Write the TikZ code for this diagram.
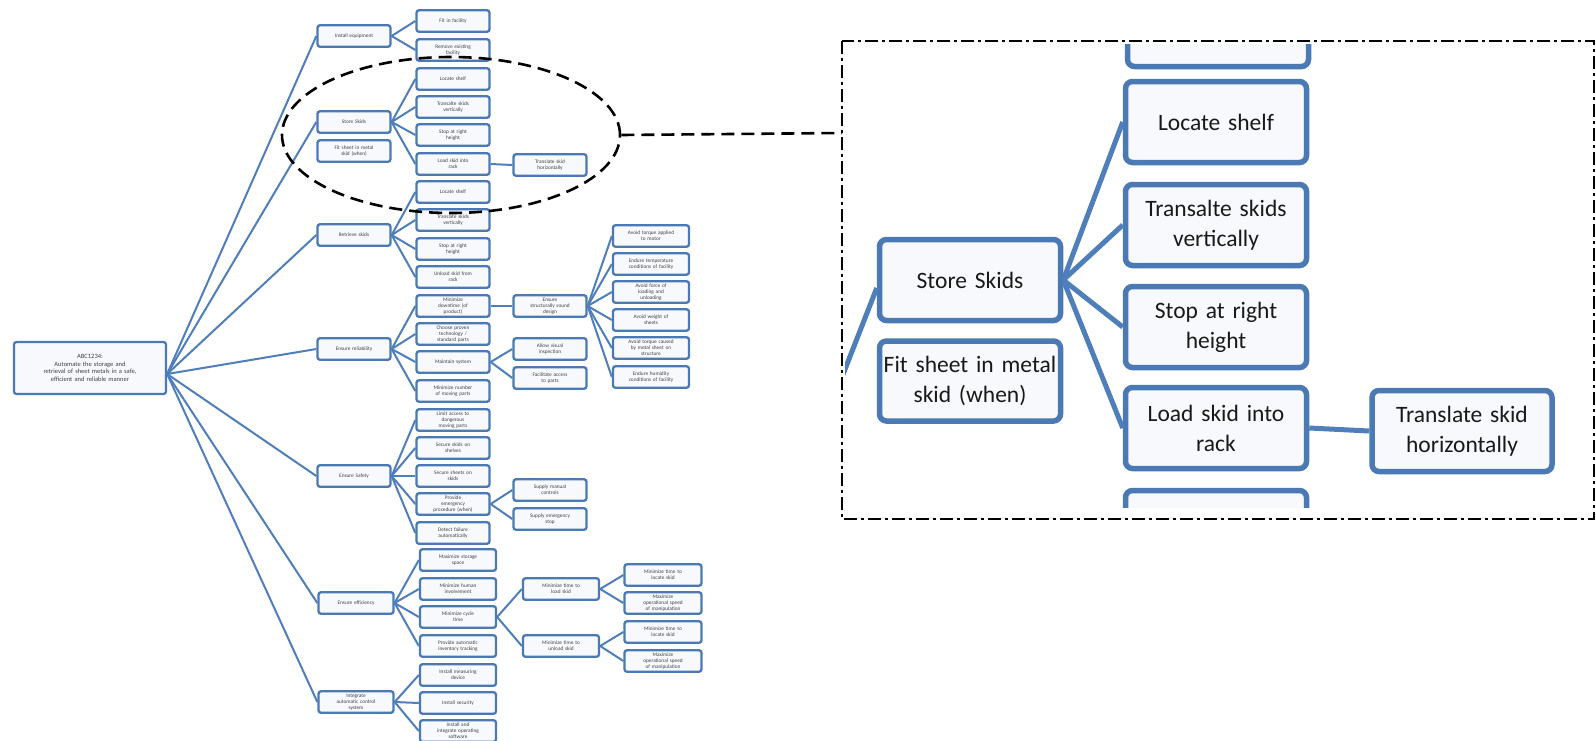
\documentclass[tikz,border=0pt]{standalone}
\usepackage{fontspec}
\setmainfont{Carlito}
\usetikzlibrary{shapes.geometric}
\definecolor{bblue}{HTML}{4A79B4}
\definecolor{lblue}{HTML}{4F7FBA}
\definecolor{bfill}{HTML}{F7F9FD}
\begin{document}
\begin{tikzpicture}[x=1pt,y=-1pt,
  sbox/.style={draw=bblue, fill=bfill, line width=2.3pt, rounded corners=2.5pt,
    minimum width=73pt, minimum height=21.5pt, text width=70pt, inner sep=0.5pt,
    align=center, font=\fontsize{5.3}{5.9}\selectfont, text=black!75},
  conn/.style={draw=lblue, line width=2pt},
  pbox/.style={draw=bblue, fill=bfill, line width=5.5pt, rounded corners=7pt,
    minimum width=181pt, minimum height=81pt, text width=178pt, inner sep=1pt,
    align=center, font=\fontsize{23.5}{30}\selectfont, text=black!90},
  pconn/.style={draw=lblue, line width=5pt},
  frame/.style={draw=black, line width=2.6pt, dash pattern=on 13pt off 4pt on 3pt off 4pt},
  zoomring/.style={draw=black, line width=2.6pt, dash pattern=on 13pt off 7pt}
]
\useasboundingbox (0,0) rectangle (1596,740);

% ---------- root ----------
\node[sbox, minimum width=152pt, minimum height=52pt, text width=148pt,
  font=\fontsize{6.5}{7.6}\selectfont] (root) at (90,368)
  {ABC1234:\\Automate the storage and\\retrieval of sheet metals in a safe,\\efficient and reliable manner};
\coordinate (rootout) at ([yshift=-6pt]root.east);

% ---------- level 1 ----------
\node[sbox] (L1a) at (354,36) {Install equipment};
\node[sbox] (L1b) at (354,122) {Store Skids};
\node[sbox] (fit) at (354,151) {Fit sheet in metal\\skid (when)};
\node[sbox] (L1c) at (354,235) {Retrieve skids};
\node[sbox] (L1d) at (354,349) {Ensure reliability};
\node[sbox] (L1e) at (354,476) {Ensure Safety};
\node[sbox, minimum width=75pt] (L1f) at (356,603) {Ensure efficiency};
\node[sbox, minimum width=75pt] (L1g) at (356,702) {Integrate\\automatic control\\system};

% ---------- level 2 ----------
\node[sbox] (a1) at (453,21) {Fit in facility};
\node[sbox] (a2) at (453,50) {Remove existing\\facility};
\node[sbox] (b1) at (453,79) {Locate shelf};
\node[sbox] (b2) at (453,107) {Transalte skids\\vertically};
\node[sbox] (b3) at (453,135) {Stop at right\\height};
\node[sbox] (b4) at (453,164) {Load skid into\\rack};
\node[sbox] (b5) at (550,165) {Translate skid\\horizontally};
\node[sbox] (c1) at (453,192) {Locate shelf};
\node[sbox] (c2) at (453,220) {Translate skids\\vertically};
\node[sbox] (c3) at (453,249) {Stop at right\\height};
\node[sbox] (c4) at (453,277) {Unload skid from\\rack};
\node[sbox] (d1) at (453,306) {Minimize\\downtime (of\\product)};
\node[sbox] (d2) at (453,334) {Choose proven\\technology /\\standard parts};
\node[sbox] (d3) at (453,362) {Maintain system};
\node[sbox] (d4) at (453,391) {Minimize number\\of moving parts};
\node[sbox] (e) at (550,306) {Ensure\\structurally sound\\design};
\node[sbox, minimum width=76pt] (f1) at (651,236) {Avoid torque applied\\to motor};
\node[sbox, minimum width=76pt] (f2) at (651,264) {Endure temperature\\conditions of facility};
\node[sbox, minimum width=76pt] (f3) at (651,292) {Avoid force of\\loading and\\unloading};
\node[sbox, minimum width=76pt] (f4) at (651,320) {Avoid weight of\\sheets};
\node[sbox, minimum width=76pt] (f5) at (651,348) {Avoid torque caused\\by metal sheet on\\structure};
\node[sbox, minimum width=76pt] (f6) at (651,377) {Endure humidity\\conditions of facility};
\node[sbox] (g1) at (550,349) {Allow visual\\inspection};
\node[sbox] (g2) at (550,378) {Facilitate access\\to parts};
\node[sbox] (h1) at (453,420) {Limit access to\\dangerous\\moving parts};
\node[sbox] (h2) at (453,448) {Secure skids on\\shelves};
\node[sbox] (h3) at (453,476) {Secure sheets on\\skids};
\node[sbox] (h4) at (453,504) {Provide\\emergency\\procedure (when)};
\node[sbox] (h5) at (453,533) {Detect failure\\automatically};
\node[sbox] (i1) at (550,490) {Supply manual\\controls};
\node[sbox] (i2) at (550,519) {Supply emergency\\stop};
\node[sbox, minimum width=76pt] (j1) at (458,560) {Maximize storage\\space};
\node[sbox, minimum width=76pt] (j2) at (458,589) {Minimize human\\involvement};
\node[sbox, minimum width=76pt] (j3) at (458,617) {Minimize cycle\\time};
\node[sbox, minimum width=76pt] (j4) at (458,646) {Provide automatic\\inventory tracking};
\node[sbox, minimum width=76pt] (k1) at (561,589) {Minimize time to\\load skid};
\node[sbox, minimum width=76pt] (k2) at (561,646) {Minimize time to\\unload skid};
\node[sbox, minimum width=77pt] (l1) at (663,575) {Minimize time to\\locate skid};
\node[sbox, minimum width=77pt] (l2) at (663,603) {Maximize\\operational speed\\of manipulation};
\node[sbox, minimum width=77pt] (l3) at (663,632) {Minimize time to\\locate skid};
\node[sbox, minimum width=77pt] (l4) at (663,661) {Maximize\\operational speed\\of manipulation};
\node[sbox, minimum width=76pt] (m1) at (458,675) {Install measuring\\device};
\node[sbox, minimum width=76pt] (m2) at (458,703) {Install security};
\node[sbox, minimum width=76pt] (m3) at (458,731) {Install and\\integrate operating\\software};

% ---------- connectors (tree) ----------
\foreach \c in {L1a,L1b,L1c,L1d,L1e,L1f,L1g} \draw[conn] (rootout) -- (\c.west);
\foreach \c in {a1,a2} \draw[conn] (L1a.east) -- (\c.west);
\foreach \c in {b1,b2,b3,b4} \draw[conn] (L1b.east) -- (\c.west);
\draw[conn] (b4.east) -- (b5.west);
\foreach \c in {c1,c2,c3,c4} \draw[conn] (L1c.east) -- (\c.west);
\foreach \c in {d1,d2,d3,d4} \draw[conn] (L1d.east) -- (\c.west);
\draw[conn] (d1.east) -- (e.west);
\foreach \c in {f1,f2,f3,f4,f5,f6} \draw[conn] (e.east) -- (\c.west);
\foreach \c in {g1,g2} \draw[conn] (d3.east) -- (\c.west);
\foreach \c in {h1,h2,h3,h4,h5} \draw[conn] (L1e.east) -- (\c.west);
\foreach \c in {i1,i2} \draw[conn] (h4.east) -- (\c.west);
\foreach \c in {j1,j2,j3,j4} \draw[conn] (L1f.east) -- (\c.west);
\foreach \c in {k1,k2} \draw[conn] (j3.east) -- (\c.west);
\foreach \c in {l1,l2} \draw[conn] (k1.east) -- (\c.west);
\foreach \c in {l3,l4} \draw[conn] (k2.east) -- (\c.west);
\foreach \c in {m1,m2,m3} \draw[conn] (L1g.east) -- (\c.west);

% ---------- zoom ring and link ----------
\node[zoomring, ellipse, minimum width=338pt, minimum height=156pt, inner sep=0pt] (ring) at (451,135) {};
\coordinate (fr) at (842,133);
\draw[zoomring] (ring.east) -- (fr);

% ---------- zoomed panel ----------
\begin{scope}
\clip (845,44) rectangle (1591,507);
\node[pbox] (q0) at (1218,26) {};
\node[pbox] (q1) at (1216,122) {Locate shelf};
\node[pbox] (q2) at (1216,225) {Transalte skids\\vertically};
\node[pbox] (q3) at (1216,327) {Stop at right\\height};
\node[pbox] (q4) at (1216,428) {Load skid into\\rack};
\node[pbox] (q5) at (1216,531) {};
\node[pbox] (p1) at (970,280) {Store Skids};
\node[pbox, minimum height=80pt] (p2) at (970,381) {Fit sheet in metal\\skid (when)};
\node[pbox, minimum width=180pt] (r) at (1462,431) {Translate skid\\horizontally};
\coordinate (pin) at (826,418);
\draw[pconn] (p1.west) ++(0,8) coordinate (pw) -- (pin);
\foreach \c in {q1,q2,q3,q4} \draw[pconn] (p1.east) -- (\c.west);
\draw[pconn] (q4.east) -- (r.west);
\end{scope}
\draw[frame] (842,41) rectangle (1594,519);
\end{tikzpicture}
\end{document}
